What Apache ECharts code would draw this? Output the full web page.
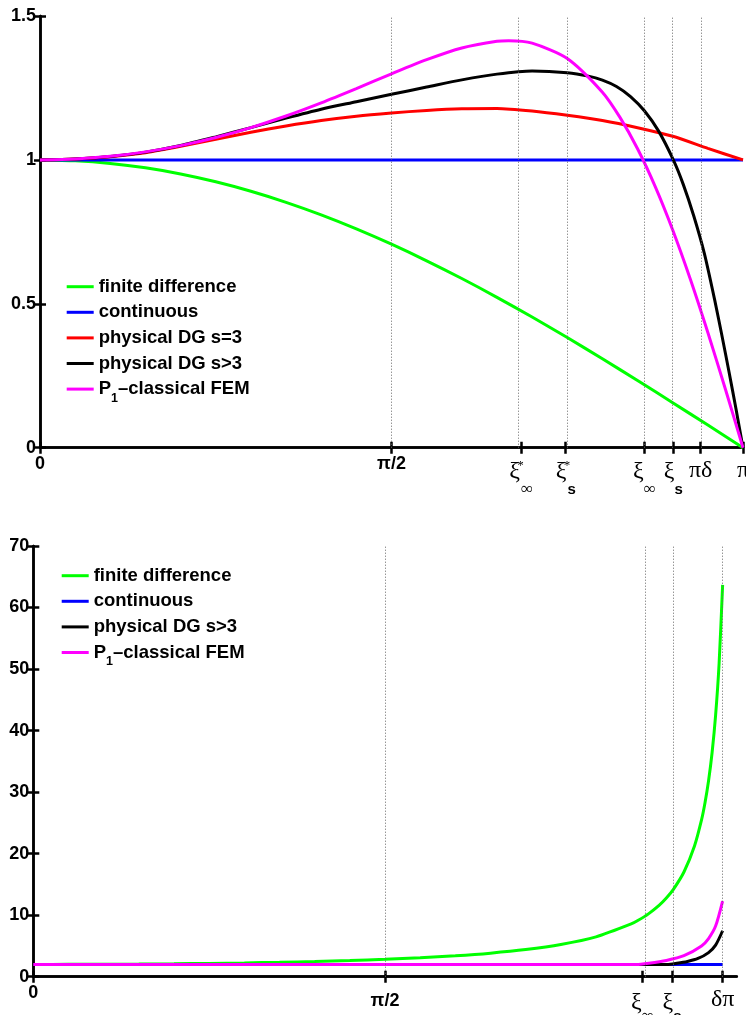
<!DOCTYPE html>
<html><head><meta charset="utf-8">
<style>html,body{margin:0;padding:0;background:#fff}#c{width:746px;height:1015px}</style>
<script src="https://cdn.jsdelivr.net/npm/echarts@6/dist/echarts.min.js"></script>
</head><body><div id="c"></div>
<script>
// ---------- x values are in units of π ----------
// top chart ticks
const topTickValues = [0, 0.5, 0.6846, 0.7478, 0.8597, 0.9009, 0.9398, 1];
const topTickLabels = ['{b|0}', '{b|π/2}', '{gx|ξ}{sup|*}{inf|∞}', '{gx|ξ}{sup|*}{s|s}', '{gx|ξ}{inf|∞}', '{gx|ξ}{s|s}', '{gp|πδ}', '{gp|π}'];
const topGridValues = [0.5, 0.6846, 0.7478, 0.8597, 0.9009, 0.9398];
// bottom chart ticks
const botTickValues = [0, 0.5, 0.866, 0.908, 0.98];
const botTickLabels = ['{b0|0}', '{b2|π/2}', '{gx|ξ}{inf|∞}', '{gx|ξ}{s|s}', '{gp|δπ}'];
const botGridValues = [0.5, 0.866, 0.908, 0.98];

// series names
const nFD = 'finite difference', nC = 'continuous', nD3 = 'physical DG s=3', nD = 'physical DG s>3', nP = 'P1–classical FEM';

// ---------- top chart data ----------
const xFDTop = [0,0.05,0.1,0.15,0.2,0.25,0.3,0.35,0.4,0.45,0.5,0.55,0.6,0.65,0.7,0.75,0.8,0.85,0.9,0.95,1];
const fdTop  = [1,0.9969,0.9877,0.9724,0.9511,0.9239,0.8910,0.8526,0.8090,0.7604,0.7071,0.6494,0.5878,0.5225,0.4540,0.3827,0.3090,0.2334,0.1564,0.0785,0];
const xContTop = [0, 1];
const contTop  = [1, 1];
const xD3Top = [0,0.05,0.1,0.15,0.2,0.25,0.3,0.35,0.4,0.45,0.5,0.55,0.6,0.65,0.7,0.75,0.8,0.85,0.9,0.95,1];
const d3Top  = [1,1.003,1.011,1.025,1.047,1.072,1.096,1.118,1.137,1.152,1.163,1.172,1.178,1.179,1.170,1.155,1.137,1.112,1.082,1.040,1];
const xDTop = [0,0.05,0.1,0.15,0.2,0.25,0.3,0.35,0.4,0.45,0.5,0.55,0.6,0.65,0.7,0.75,0.78,0.8,0.82,0.84,0.86,0.88,0.9009,0.915,0.93,0.945,0.96,0.97,0.98,0.99,1];
const dTop  = [1,1.003,1.012,1.027,1.050,1.080,1.112,1.145,1.176,1.202,1.228,1.253,1.278,1.298,1.309,1.303,1.291,1.277,1.255,1.220,1.170,1.100,1.0,0.915,0.805,0.675,0.510,0.390,0.265,0.135,0];
const xPTop = [0,0.05,0.1,0.15,0.2,0.25,0.3,0.35,0.4,0.45,0.5,0.55,0.6,0.65,0.6667,0.7,0.75,0.8,0.825,0.85,0.875,0.9,0.925,0.95,0.975,1];
const pTop  = [1,1.0031,1.0124,1.0279,1.0497,1.0778,1.1122,1.1525,1.1981,1.2477,1.2990,1.3482,1.3890,1.4124,1.4142,1.4057,1.3526,1.2354,1.1477,1.0387,0.9081,0.7566,0.5863,0.4003,0.2031,0];

// ---------- bottom chart data ----------
const xFDBot = [0,0.05,0.1,0.15,0.2,0.25,0.3,0.35,0.4,0.45,0.5,0.55,0.6,0.65,0.7,0.75,0.8,0.85,0.86,0.875,0.89,0.9,0.91,0.925,0.94,0.95,0.955,0.96,0.965,0.97,0.975,0.98];
const fdBot  = [2,2.0062,2.0249,2.0568,2.1029,2.1648,2.2447,2.3457,2.4722,2.6302,2.8284,3.0798,3.4026,3.8278,4.4054,5.2263,6.4721,8.5690,9.168,10.252,11.633,12.785,14.195,17.016,21.252,25.481,28.318,31.851,36.40,42.457,50.94,63.672];
const xContBot = [0, 0.98];
const contBot  = [2, 2];
const xDBot = [0,0.3,0.6,0.85,0.89,0.9009,0.915,0.93,0.945,0.96,0.97,0.98];
const dBot  = [2,2,2,2,2,2,2.19,2.48,2.96,3.92,5.13,7.47];
const xPBot = [0,0.3,0.6,0.8,0.84,0.857,0.875,0.9,0.925,0.95,0.96,0.97,0.98];
const pBot  = [2,2,2,2,2,2,2.2024,2.6434,3.4112,4.9963,6.2027,8.2251,12.29];

const zip = (xs, ys) => xs.map((x, i) => [x, ys[i]]);
const nearest = (arr, v) => { let bi = 0; arr.forEach((a, i) => { if (Math.abs(a - v) < Math.abs(arr[bi] - v)) bi = i; }); return bi; };

const SANS = "'Liberation Sans', Arial, Helvetica, sans-serif";
const SERIF = "'Liberation Serif', 'Times New Roman', serif";
const AX = {lineStyle: {color: '#000', width: 2.5}};
const TICK = {inside: true, length: 6, lineStyle: {color: '#000', width: 2.5}};

const colors = {};
colors[nFD] = '#00ff00'; colors[nC] = '#0000ff'; colors[nD3] = '#ff0000'; colors[nD] = '#000000'; colors[nP] = '#ff00ff';

function line(name, data, xi, yi) {
  return {
    type: 'line', name: name, data: data, xAxisIndex: xi, yAxisIndex: yi,
    showSymbol: false, symbol: 'none', smooth: 0.25, color: colors[name],
    lineStyle: {width: 3, color: colors[name]}, itemStyle: {color: colors[name]},
    animation: false, silent: true
  };
}

// each token: verticalAlign top, 'height' = 2 * (distance of its middle below the axis)
function tok(family, size, h, bold, extra) {
  return Object.assign({fontFamily: family, fontSize: size, fontWeight: bold ? 'bold' : 'normal',
    height: h, lineHeight: h, verticalAlign: 'top', color: '#000'}, extra || {});
}
function richTop() {
  return {
    b:   tok(SANS, 18, 32, true),
    gx:  tok(SERIF, 24, 49, false),
    gp:  tok(SERIF, 24, 46, false),
    sup: tok(SERIF, 13, 36, false, {width: 1}),
    inf: tok(SERIF, 17, 83, false),
    s:   tok(SANS, 15, 85, true)
  };
}
function richBot() {
  return {
    b0:  tok(SANS, 18, 32.6, true),
    b2:  tok(SANS, 18, 49.6, true),
    gx:  tok(SERIF, 24, 52, false),
    gp:  tok(SERIF, 24, 46.4, false),
    inf: tok(SERIF, 17, 80, false),
    s:   tok(SANS, 15, 80, true)
  };
}

const legendRich = {
  t:   {fontFamily: SANS, fontWeight: 'bold', fontSize: 18.5, lineHeight: 20, color: '#000'},
  sub: {fontFamily: SANS, fontWeight: 'bold', fontSize: 12.5, height: 2, lineHeight: 2, verticalAlign: 'bottom', color: '#000'}
};
const legendFmt = name => name === nP ? '{t|P}{sub|1}{t|–classical FEM}' : '{t|' + name + '}';
function legend(left, top, names) {
  return {
    orient: 'vertical', left: left, top: top, itemWidth: 27, itemHeight: 3, itemGap: 5.6,
    icon: 'rect', data: names, formatter: legendFmt, selectedMode: false,
    textStyle: {rich: legendRich, fontFamily: SANS, fontWeight: 'bold', fontSize: 18.5, lineHeight: 20, color: '#000'},
    padding: 0
  };
}

function xMain(grid, vals, labels, rich) {
  return {
    type: 'value', gridIndex: grid, min: 0, max: 1, position: 'bottom',
    axisLine: AX, axisTick: Object.assign({customValues: vals}, TICK),
    axisLabel: {customValues: vals, margin: 0, showMinLabel: true, showMaxLabel: true,
      formatter: v => labels[nearest(vals, v)], rich: rich, color: '#000'},
    splitLine: {show: false}
  };
}
function xTop(grid, vals) {
  return {
    type: 'value', gridIndex: grid, min: 0, max: 1, position: 'top',
    axisLine: AX, axisTick: Object.assign({customValues: vals}, TICK),
    axisLabel: {show: false}, splitLine: {show: false}
  };
}
function yAx(grid, max, interval, pos, show) {
  return {
    type: 'value', gridIndex: grid, min: 0, max: max, interval: interval, position: pos,
    axisLine: AX, axisTick: TICK, splitLine: {show: false},
    axisLabel: {show: show, margin: 4, color: '#000', fontFamily: SANS, fontWeight: 'bold', fontSize: 18}
  };
}
function vlines(vals) {
  return {
    silent: true, symbol: 'none', label: {show: false}, animation: false,
    lineStyle: {color: '#666', type: [1, 2], width: 1},
    data: vals.map(v => ({xAxis: v}))
  };
}

const chart = echarts.init(document.getElementById('c'), null, {renderer: 'canvas'});

const sTop = [
  line(nFD, zip(xFDTop, fdTop), 0, 0),
  line(nC, zip(xContTop, contTop), 0, 0),
  line(nD3, zip(xD3Top, d3Top), 0, 0),
  line(nD, zip(xDTop, dTop), 0, 0),
  line(nP, zip(xPTop, pTop), 0, 0)
];
sTop[0].markLine = vlines(topGridValues);
sTop[0].z = 1;
const sBot = [
  line(nFD, zip(xFDBot, fdBot), 2, 2),
  line(nC, zip(xContBot, contBot), 2, 2),
  line(nD, zip(xDBot, dBot), 2, 2),
  line(nP, zip(xPBot, pBot), 2, 2)
];
sBot[0].markLine = vlines(botGridValues);
sBot[0].z = 1;

chart.setOption({
  animation: false,
  backgroundColor: '#fff',
  grid: [
    {left: 40, top: 16, right: 3, bottom: 567.3, outerBoundsMode: 'none', containLabel: false},
    {left: 33.3, top: 546, right: 9.3, bottom: 38.3, outerBoundsMode: 'none', containLabel: false}
  ],
  xAxis: [
    xMain(0, topTickValues, topTickLabels, richTop()),
    xTop(0, topTickValues),
    xMain(1, botTickValues, botTickLabels, richBot()),
    xTop(1, botTickValues)
  ],
  yAxis: [
    yAx(0, 1.5, 0.5, 'left', true),
    yAx(0, 1.5, 0.5, 'right', false),
    yAx(1, 70, 10, 'left', true),
    yAx(1, 70, 10, 'right', false)
  ],
  legend: [
    legend(66.7, 276.7, [nFD, nC, nD3, nD, nP]),
    legend(61.7, 565.7, [nFD, nC, nD, nP])
  ],
  series: sTop.concat(sBot)
});
</script>
</body></html>
